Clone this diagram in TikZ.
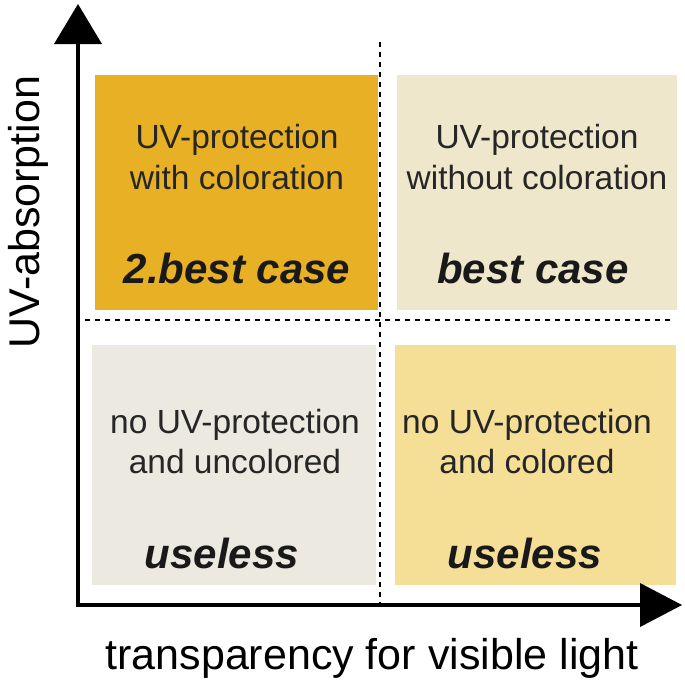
\documentclass[tikz,border=0pt]{standalone}
\usepackage{fontspec}
\setmainfont{Liberation Sans}
\begin{document}
\begin{tikzpicture}[x=1pt,y=-1pt,
  txt/.style={font=\fontsize{33.5}{35}\selectfont, text=black!85},
  big/.style={font=\fontsize{42}{44}\selectfont\bfseries\itshape, text=black!90},
  dsh/.style={line width=2.5pt, dash pattern=on 5pt off 5pt}]
\useasboundingbox (0,0) rectangle (685,683);
% squares
\fill[fill={rgb,255:red,232;green,176;blue,36}] (95,75) rectangle (378,310);
\fill[fill={rgb,255:red,239;green,231;blue,203}] (397,75) rectangle (677,310);
\fill[fill={rgb,255:red,235;green,233;blue,224}] (92,345) rectangle (376,585);
\fill[fill={rgb,255:red,245;green,222;blue,150}] (395,345) rectangle (676,585);
% dashed lines
\coordinate (vt) at (380,42); \coordinate (vb) at (380,608);
\coordinate (hl) at (85,320); \coordinate (hr) at (672,320);
\draw[dsh] (vt) -- (vb);
\draw[dsh] (hl) -- (hr);
% axes
\coordinate (o) at (78,605);
\coordinate (yt) at (78,40); \coordinate (xr) at (642,605);
\draw[line width=4pt] (o) -- (yt);
\draw[line width=4pt] (76,605) -- (xr);
\fill (54,44) -- (78,4) -- (102,44) -- cycle;
\fill (640,583) -- (682,605) -- (640,627) -- cycle;
% texts
\node[txt] (a1) at (237,140) {UV-protection};
\node[txt] (a2) at (237,178) {with coloration};
\node[big] (a3) at (237,268) {2.best case};
\node[txt] (b1) at (537,140) {UV-protection};
\node[txt] (b2) at (537,178) {without coloration};
\node[big] (b3) at (533,268) {best case};
\node[txt] (c1) at (235,425) {no UV-protection};
\node[txt] (c2) at (235,462) {and uncolored};
\node[big] (c3) at (222,553) {useless};
\node[txt] (d1) at (527,425) {no UV-protection};
\node[txt] (d2) at (527,462) {and colored};
\node[big] (d3) at (525,553) {useless};
\node[font=\fontsize{43}{45}\selectfont, rotate=90] (ya) at (28,212) {UV-absorption};
\node[font=\fontsize{43}{45}\selectfont] (xa) at (372,658) {transparency for visible light};
\end{tikzpicture}
\end{document}
